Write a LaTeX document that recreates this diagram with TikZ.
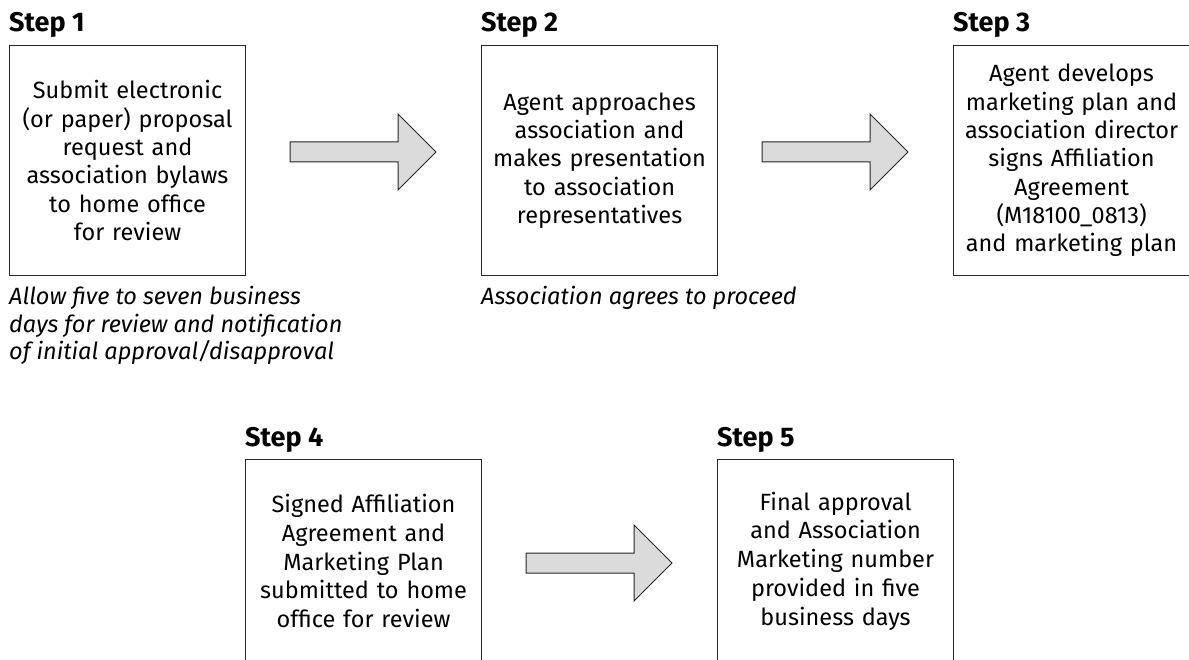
\documentclass[tikz,border=0pt]{standalone}
\usepackage{fontspec}
\setmainfont{Fira Sans}
\begin{document}
\begin{tikzpicture}[x=1pt,y=-1pt,
  stepbox/.style={draw=black!85,line width=1.1pt,minimum width=236pt,minimum height=230pt,inner sep=0pt,
    text width=232pt,align=center,font=\fontsize{23.5}{28.3}\selectfont,anchor=north west},
  steptext/.style={inner sep=0pt,text width=232pt,align=center,font=\fontsize{23.5}{28.8}\selectfont},
  steplabel/.style={font=\fontsize{27}{30}\selectfont\bfseries,anchor=base west,inner sep=0pt},
  note/.style={font=\fontsize{23.5}{27.5}\selectfont\itshape,align=left,anchor=north west,inner sep=0pt},
  blockarrow/.style={draw=black!85,line width=1pt,fill=gray!28,line join=miter}]
\clip (0,0) rectangle (1189,660);
\useasboundingbox (0,0) rectangle (1189,660);

\node[steplabel] (l1) at (9,32) {Step 1};
\node[steplabel] (l2) at (481,32) {Step 2};
\node[steplabel] (l3) at (953,32) {Step 3};
\node[steplabel] (l4) at (245,446) {Step 4};
\node[steplabel] (l5) at (717,446) {Step 5};

\node[stepbox] (b1) at (9,45) {Submit electronic\\(or paper) proposal\\request and\\association bylaws\\to home office\\for review};
\node[stepbox] (b2) at (481,45) {Agent approaches\\association and\\makes presentation\\to association\\representatives};
\node[stepbox] (b3) at (953,45) {Agent develops\\marketing plan and\\association director\\signs Affiliation\\Agreement\\(M18100\_0813)\\and marketing plan};
\node[stepbox] (b4) at (245,459) {};
\node[stepbox] (b5) at (717,459) {};
\node[steptext] (t4) at ([yshift=-102pt]b4.north) {Signed Affiliation\\Agreement and\\Marketing Plan\\submitted to home\\office for review};
\node[steptext] (t5) at ([yshift=-102pt]b5.north) {Final approval\\and Association\\Marketing number\\provided in five\\business days};

\node[note] (n1) at (9,286) {Allow five to seven business\\days for review and notification\\of initial approval/disapproval};
\node[note] (n2) at (481,286) {Association agrees to proceed};

\draw[blockarrow] (290,142) -- (398,142) -- (398,114) -- (436,152) -- (398,190) -- (398,162) -- (290,162) -- cycle;
\draw[blockarrow] (762,142) -- (870,142) -- (870,114) -- (908,152) -- (870,190) -- (870,162) -- (762,162) -- cycle;
\draw[blockarrow] (526,553) -- (634,553) -- (634,525) -- (672,563) -- (634,601) -- (634,573) -- (526,573) -- cycle;
\end{tikzpicture}
\end{document}
